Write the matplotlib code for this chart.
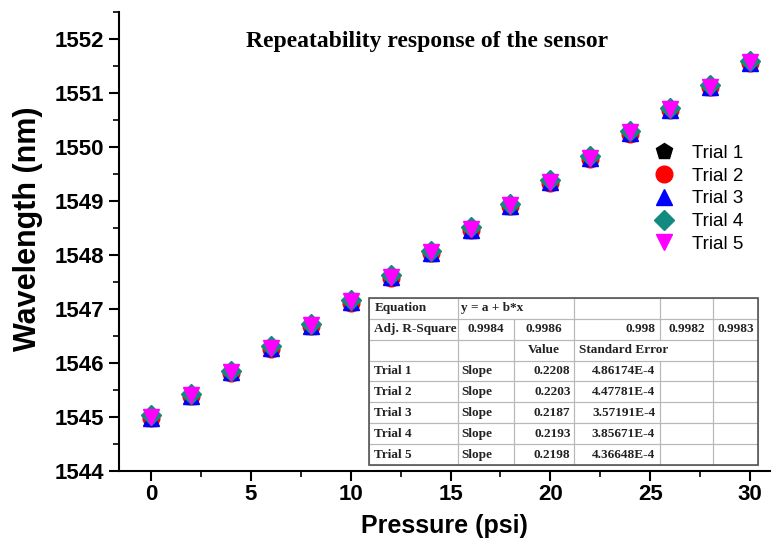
import matplotlib
matplotlib.use('Agg')
import matplotlib.pyplot as plt
from matplotlib.ticker import MultipleLocator
from matplotlib.patches import Rectangle

# dados
pressao = [0, 2, 4, 6, 8, 10, 12, 14, 16, 18, 20, 22, 24, 26, 28, 30]
trial1 = [1544.97, 1545.37, 1545.81, 1546.25, 1546.67, 1547.11, 1547.57, 1548.02, 1548.45, 1548.89, 1549.33, 1549.78, 1550.24, 1550.68, 1551.10, 1551.55]
trial2 = [1544.98, 1545.38, 1545.82, 1546.26, 1546.68, 1547.12, 1547.58, 1548.03, 1548.46, 1548.90, 1549.34, 1549.78, 1550.25, 1550.68, 1551.11, 1551.56]
trial3 = [1544.99, 1545.39, 1545.83, 1546.27, 1546.69, 1547.13, 1547.59, 1548.04, 1548.47, 1548.91, 1549.35, 1549.79, 1550.26, 1550.69, 1551.11, 1551.55]
trial4 = [1545.03, 1545.43, 1545.86, 1546.31, 1546.73, 1547.17, 1547.63, 1548.08, 1548.51, 1548.95, 1549.39, 1549.83, 1550.30, 1550.73, 1551.15, 1551.60]
trial5 = [1545.00, 1545.40, 1545.84, 1546.28, 1546.70, 1547.14, 1547.60, 1548.05, 1548.48, 1548.92, 1549.36, 1549.80, 1550.27, 1550.70, 1551.12, 1551.57]

nomes = ['Trial 1', 'Trial 2', 'Trial 3', 'Trial 4', 'Trial 5']
marcadores = ['p', 'o', '^', 'D', 'v']
cores = ['black', 'red', 'blue', '#138a80', 'magenta']

# tabela de ajuste linear
r_quadrado = ['0.9984', '0.9986', '0.998', '0.9982', '0.9983']
slopes = ['0.2208', '0.2203', '0.2187', '0.2193', '0.2198']
erros = ['4.86174E-4', '4.47781E-4', '3.57191E-4', '3.85671E-4', '4.36648E-4']

fig = plt.figure(figsize=(7.74, 5.46), dpi=100)
ax = fig.add_axes([0.1537, 0.1374, 0.8413, 0.8406])

series = [trial1, trial2, trial3, trial4, trial5]
for y, nome, m, c in zip(series, nomes, marcadores, cores):
    ms = 10 if m == 'D' else 12
    ax.plot(pressao, y, linestyle='none', marker=m, color=c, markersize=ms, label=nome)

ax.set_xlim(-1.6, 31)
ax.set_ylim(1544, 1552.5)
ax.xaxis.set_major_locator(MultipleLocator(5))
ax.xaxis.set_minor_locator(MultipleLocator(2.5))
ax.yaxis.set_major_locator(MultipleLocator(1))
ax.yaxis.set_minor_locator(MultipleLocator(0.5))
ax.spines['top'].set_visible(False)
ax.spines['right'].set_visible(False)
ax.spines['left'].set_linewidth(1.5)
ax.spines['bottom'].set_linewidth(1.5)
ax.tick_params(which='major', direction='out', length=7.5, width=1.5, labelsize=16)
ax.tick_params(axis='x', which='major', pad=2)
ax.tick_params(axis='y', which='major', pad=3)
ax.tick_params(which='minor', direction='out', length=4, width=1.2)
for lab in ax.get_xticklabels() + ax.get_yticklabels():
    lab.set_fontfamily('Liberation Sans')
    lab.set_fontweight('bold')

ax.set_xlabel('Pressure (psi)', fontsize=18, fontweight='bold', family='Liberation Sans', labelpad=6)
ax.set_ylabel('Wavelength (nm)', fontsize=22, fontweight='bold', family='Liberation Sans')
ax.yaxis.set_label_coords(-0.117, 0.527)

ax.text(0.473, 0.935, 'Repeatability response of the sensor', transform=ax.transAxes,
        ha='center', va='center', fontsize=17, fontweight='bold', family='Liberation Serif')

leg = ax.legend(loc='upper left', bbox_to_anchor=(0.796, 0.727), frameon=False,
                prop={'family': 'Liberation Sans', 'size': 13.5}, handletextpad=0.5,
                labelspacing=0.3, borderaxespad=0)

# TABELA
linhas = [['Equation', 'y = a + b*x', '', '', '', ''],
          ['Adj. R-Square'] + r_quadrado,
          ['', '', 'Value', 'Standard Error', '', '']]
for i in range(5):
    linhas.append([nomes[i], 'Slope', slopes[i], erros[i], '', ''])

caixa = [0.384, 0.013, 0.598, 0.364]
# fundo branco atras da tabela (celulas transparentes para o texto poder passar da borda)
ax.add_patch(Rectangle((caixa[0], caixa[1]), caixa[2], caixa[3], transform=ax.transAxes,
                       facecolor='white', edgecolor='none', zorder=4.5))

larg = [89, 56, 60, 86, 53, 45]
larg = [w / sum(larg) for w in larg]
tab = ax.table(cellText=linhas, colWidths=larg, bbox=caixa, zorder=5)
tab.auto_set_font_size(False)
for (r, c), cel in tab.get_celld().items():
    cel.set_edgecolor('#b8b8b8')
    cel.set_facecolor('none')
    cel.set_linewidth(0.8)
    txt = cel.get_text()
    txt.set_fontfamily('Liberation Serif')
    txt.set_fontweight('bold')
    txt.set_fontsize(9.5)
    txt.set_color('#222222')
    txt.set_clip_on(False)
    loc = 'left'
    if r == 1 and c > 0:
        loc = 'right' if c == 3 else 'center'
    if r >= 3 and c in (2, 3):
        loc = 'right'
    if r == 2 and c == 2:
        loc = 'center'
    cel._loc = loc
    txt.set_horizontalalignment(loc)
    cel.PAD = 0.06
    if r == 0 and c == 1:
        cel.visible_edges = 'BTL'
    if r == 0 and c == 2:
        cel.visible_edges = 'BTR'
    if r == 2 and c == 3:
        cel.visible_edges = 'BTL'
    if r == 2 and c == 4:
        cel.visible_edges = 'BTR'
ax.add_patch(Rectangle((caixa[0], caixa[1]), caixa[2], caixa[3], transform=ax.transAxes, fill=False,
                       edgecolor='#555555', linewidth=1.2, zorder=6))

fig.savefig('out.png', dpi=100)
